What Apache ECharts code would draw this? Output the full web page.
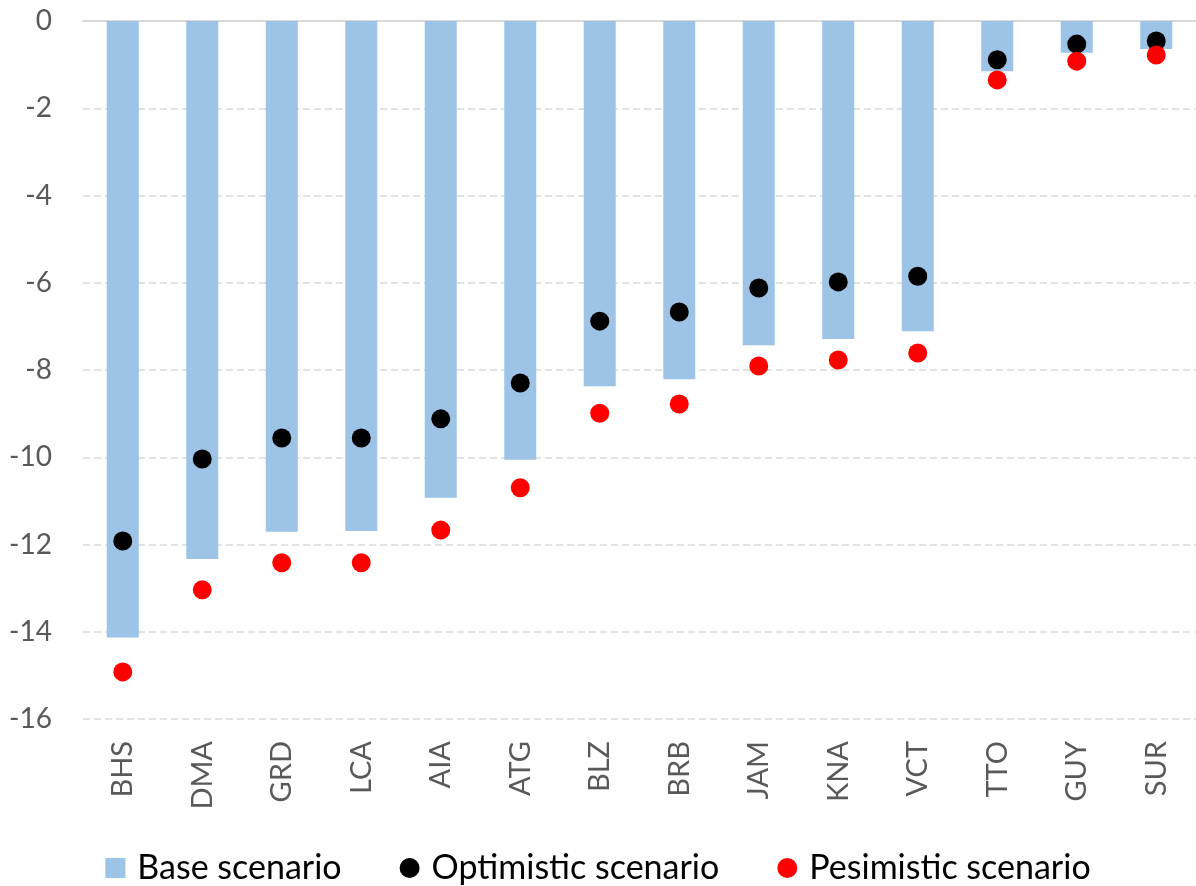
<!DOCTYPE html>
<html>
<head>
<meta charset="utf-8">
<script src="https://cdn.jsdelivr.net/npm/echarts@6/dist/echarts.min.js"></script>
<style>
html,body{margin:0;padding:0;background:#fff}
#chart_1{width:1196px;height:886px}
</style>
</head>
<body>
<div id="chart_1"></div>
<script>
var countries = ['BHS','DMA','GRD','LCA','AIA','ATG','BLZ','BRB','JAM','KNA','VCT','TTO','GUY','SUR']
var baseScenario = [-14.13,-12.33,-11.71,-11.69,-10.93,-10.06,-8.37,-8.21,-7.43,-7.29,-7.11,-1.15,-0.73,-0.64]
var optimistic = [-11.92,-10.04,-9.56,-9.56,-9.12,-8.30,-6.88,-6.67,-6.12,-5.98,-5.85,-0.89,-0.53,-0.46]
var pesimistic = [-14.92,-13.04,-12.42,-12.42,-11.67,-10.70,-8.99,-8.78,-7.91,-7.77,-7.61,-1.35,-0.92,-0.78]
var legendNames = ['Base scenario','Optimistic scenario','Pesimistic scenario']

var fontFam = 'Lato, "Noto Sans", sans-serif'
var char1 = echarts.init(document.getElementById('chart_1'))
var option1 = {
    animation: false,
    textStyle: { fontFamily: fontFam },
    grid: {
        top: 21,
        left: 83,
        right: 0,
        bottom: 167
    },
    legend: {
        bottom: -4,
        left: 'center',
        itemWidth: 20,
        itemHeight: 20,
        itemGap: 58,
        textStyle: { color: '#000', fontSize: 34, fontFamily: fontFam, padding: [0, 0, 0, 7] },
        data: [
            { name: legendNames[0], icon: 'rect' },
            { name: legendNames[1], icon: 'circle' },
            { name: legendNames[2], icon: 'circle' }
        ]
    },
    xAxis: [
        {
            type: 'category',
            position: 'bottom',
            data: countries,
            axisLine: { show: false, onZero: false },
            axisTick: { show: false },
            axisLabel: {
                rotate: 90,
                margin: 22,
                color: '#595959',
                fontSize: 29,
                fontFamily: fontFam
            }
        },
        {
            type: 'category',
            position: 'top',
            data: countries,
            axisLine: { show: true, onZero: false, lineStyle: { color: '#d9d9d9', width: 2 } },
            axisTick: { show: false },
            axisLabel: { show: false }
        }
    ],
    yAxis: {
        type: 'value',
        min: -16,
        max: 0,
        interval: 2,
        axisLine: { show: false },
        axisTick: { show: false },
        axisLabel: {
            margin: 31,
            color: '#595959',
            fontSize: 28,
            fontFamily: fontFam
        },
        splitLine: {
            lineStyle: { color: '#d9d9d9', type: [7, 4], width: 1.5 }
        }
    },
    series: [
        {
            name: legendNames[0],
            type: 'bar',
            barWidth: 32,
            itemStyle: { color: '#9dc3e6' },
            data: baseScenario
        },
        {
            name: legendNames[1],
            type: 'scatter',
            symbol: 'circle',
            symbolSize: 19,
            itemStyle: { color: '#000', opacity: 1 },
            data: optimistic
        },
        {
            name: legendNames[2],
            type: 'scatter',
            symbol: 'circle',
            symbolSize: 19,
            itemStyle: { color: '#ff0000', opacity: 1 },
            data: pesimistic
        }
    ]
}
char1.setOption(option1)
</script>
</body>
</html>
